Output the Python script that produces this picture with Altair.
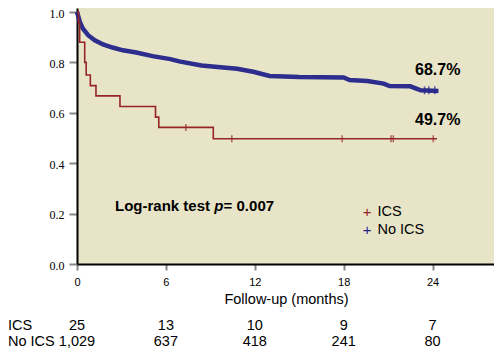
import altair as alt
import pandas as pd

# ---- data ----
ics_time = [0, 0.1, 0.18, 0.52, 0.62, 0.9, 1.28, 2.9, 5.3, 5.52, 9.2, 24.3]
ics_surv = [1.0, 0.96, 0.88, 0.80, 0.75, 0.708, 0.667, 0.625, 0.583, 0.542, 0.497, 0.497]
ics_cens_time = [7.35, 10.45, 17.9, 21.2, 21.35, 24.05]
ics_cens_surv = [0.542, 0.497, 0.497, 0.497, 0.497, 0.497]

noics_time = [0, 0.2, 0.4, 0.75, 1.2, 1.76, 2.4, 3.1, 4.0, 5.1, 6.3, 6.9, 8.4, 10.8,
              11.9, 13.0, 15.0, 18.0, 18.4, 19.6, 20.7, 21.1, 22.5, 23.2, 24.4]
noics_surv = [1.0, 0.96, 0.934, 0.908, 0.888, 0.871, 0.859, 0.848, 0.839, 0.825, 0.813,
              0.804, 0.788, 0.775, 0.763, 0.746, 0.742, 0.740, 0.730, 0.726, 0.716, 0.706,
              0.705, 0.689, 0.687]
noics_cens_time = [23.46, 23.75, 24.15]
noics_cens_surv = [0.689, 0.689, 0.689]

risk_times = [0, 6, 12, 18, 24]
risk_ics = ["25", "13", "10", "9", "7"]
risk_noics = ["1,029", "637", "418", "241", "80"]

x_ticks = [0, 6, 12, 18, 24]
y_ticks = [0.0, 0.2, 0.4, 0.6, 0.8, 1.0]

final_labels = ["68.7%", "49.7%"]
legend_labels = ["ICS", "No ICS"]

# ---- styling ----
RED = "#962626"
BLUE = "#23238a"
BG = "#e8e4c8"
SANS = "Liberation Sans"
W, H = 417, 256
XMAX = 418 / 14.85
YMAX = 256 / 252

xs = alt.Scale(domain=[0, XMAX], nice=False, zero=False)
ys = alt.Scale(domain=[0, YMAX], nice=False)

ics_df = pd.DataFrame({"t": ics_time, "s": ics_surv})
noics_df = pd.DataFrame({"t": noics_time, "s": noics_surv})
ics_c = pd.DataFrame({"t": ics_cens_time, "s": ics_cens_surv})
noics_c = pd.DataFrame({"t": noics_cens_time, "s": noics_cens_surv})

xenc = alt.X("t:Q", scale=xs, axis=alt.Axis(
    values=x_ticks, title=None, labelFont=SANS, labelFontSize=11, labelColor="#000",
    domainColor="#000", domainWidth=2, tickColor="#888", tickWidth=2, tickSize=6,
    labelPadding=6, grid=False, labelFlush=False))
yenc = alt.Y("s:Q", scale=ys, axis=alt.Axis(
    values=y_ticks, format=".1f", title=None, labelFont="Liberation Serif", labelFontSize=12,
    labelColor="#000", domainColor="#000", domainWidth=2, tickColor="#888", tickWidth=2,
    tickSize=8, labelPadding=5, labelOffset=1, grid=False))

noics_line = alt.Chart(noics_df).mark_line(color=BLUE, strokeWidth=4.5, opacity=0.95).encode(
    x=xenc, y=yenc)
ics_line = alt.Chart(ics_df).mark_line(color=RED, strokeWidth=1.6, interpolate="step-after").encode(
    x=alt.X("t:Q", scale=xs), y=alt.Y("s:Q", scale=ys))
ics_ticks = alt.Chart(ics_c).mark_tick(color=RED, orient="vertical", size=7, thickness=1.5).encode(
    x=alt.X("t:Q", scale=xs), y=alt.Y("s:Q", scale=ys))
noics_ticks = alt.Chart(noics_c).mark_tick(color=BLUE, orient="vertical", size=8, thickness=1.5).encode(
    x=alt.X("t:Q", scale=xs), y=alt.Y("s:Q", scale=ys))

pct = alt.Chart(pd.DataFrame({"lab": final_labels, "yy": [62, 112]})).mark_text(
    font=SANS, fontSize=16, fontWeight="bold", align="left", baseline="middle", color="#000"
).encode(text="lab:N", x=alt.value(338), y=alt.Y("yy:Q", scale=None))

LR_FS = 15
logrank = alt.layer(
    alt.Chart(pd.DataFrame({"a": ["Log-rank test"]})).mark_text(
        font=SANS, fontSize=LR_FS, fontWeight="bold", align="left", baseline="middle"
    ).encode(text="a:N", x=alt.value(38), y=alt.value(198)),
    alt.Chart(pd.DataFrame({"a": ["p"]})).mark_text(
        font=SANS, fontSize=LR_FS, fontWeight="bold", fontStyle="italic", align="left", baseline="middle"
    ).encode(text="a:N", x=alt.value(137.2), y=alt.value(198)),
    alt.Chart(pd.DataFrame({"a": ["= 0.007"]})).mark_text(
        font=SANS, fontSize=LR_FS, fontWeight="bold", align="left", baseline="middle"
    ).encode(text="a:N", x=alt.value(146.6), y=alt.value(198)),
)

leg_df = pd.DataFrame({"lab": legend_labels, "yy": [203.7, 222], "c": [RED, BLUE]})
leg_plus = alt.Chart(leg_df).mark_text(fontSize=15, font=SANS,
                                       align="center", baseline="middle").encode(
    text=alt.value("+"), x=alt.value(290), y=alt.Y("yy:Q", scale=None),
    color=alt.Color("c:N", scale=None))
leg_txt = alt.Chart(leg_df).mark_text(fontSize=14.5, font=SANS, align="left",
                                      baseline="middle", color="#000").encode(
    text="lab:N", x=alt.value(300.5), y=alt.Y("yy:Q", scale=None))

xtitle = alt.Chart(pd.DataFrame({"a": ["Follow-up (months)"]})).mark_text(
    font=SANS, fontSize=14.5, align="center", baseline="middle", color="#000"
).encode(text="a:N", x=alt.value(209.5), y=alt.value(292))

RT_FS = 14.5
risk_df = pd.DataFrame({"t": risk_times, "ics": risk_ics, "noics": risk_noics})
risk1 = alt.Chart(risk_df).mark_text(font=SANS, fontSize=RT_FS, align="center", baseline="middle",
                                     color="#000").encode(
    x=alt.X("t:Q", scale=xs), text="ics:N", y=alt.value(318))
risk2 = alt.Chart(risk_df).mark_text(font=SANS, fontSize=RT_FS, align="center", baseline="middle",
                                     color="#000").encode(
    x=alt.X("t:Q", scale=xs), text="noics:N", y=alt.value(333.5))
row_lab = alt.Chart(pd.DataFrame({"a": ["ICS", "No ICS"], "yy": [318, 333.5]})).mark_text(
    font=SANS, fontSize=RT_FS, align="left", baseline="middle", color="#000"
).encode(text="a:N", x=alt.value(-69), y=alt.Y("yy:Q", scale=None))

chart = alt.layer(
    noics_line, ics_line, ics_ticks, noics_ticks, pct, logrank, leg_plus, leg_txt,
    xtitle, risk1, risk2, row_lab
).properties(
    width=W, height=H,
    autosize=alt.AutoSizeParams(type="none"),
    padding={"left": 69, "top": 0, "right": 0, "bottom": 84},
).configure_view(fill=BG, stroke=None)

chart.save("out.html", embed_options={"renderer": "svg", "actions": False})
